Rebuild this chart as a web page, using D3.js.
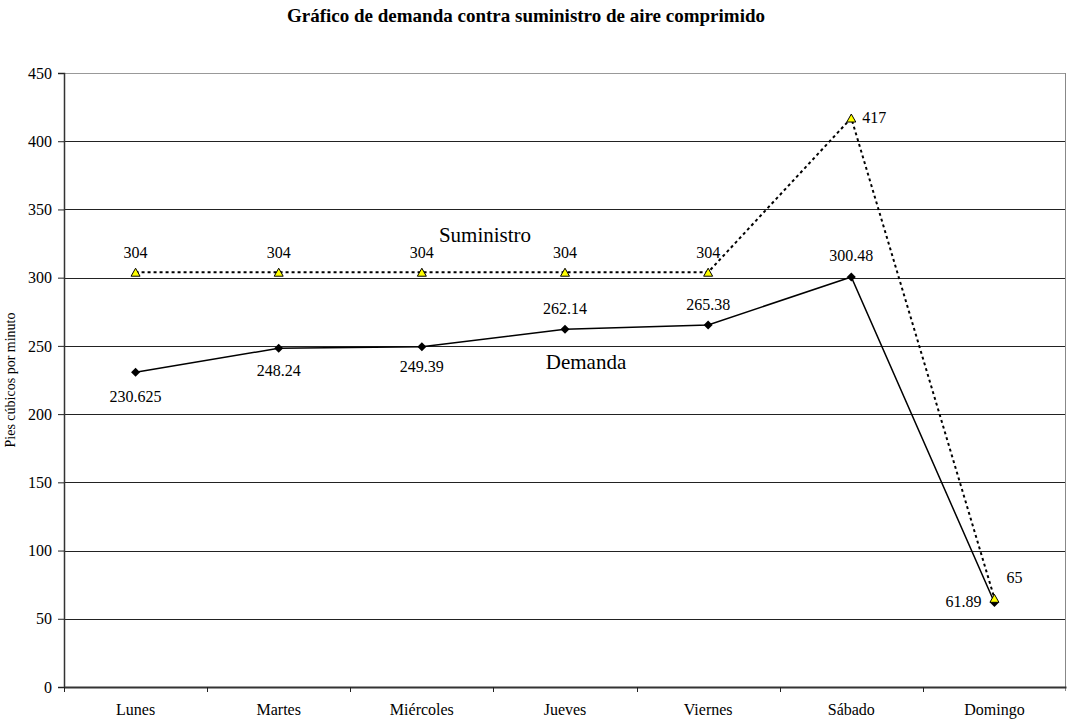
<!DOCTYPE html>
<html>
<head>
<meta charset="utf-8">
<script src="https://cdn.jsdelivr.net/npm/d3@7"></script>
<style>
  body { margin: 0; background: #fff; }
  text { font-family: "Liberation Serif", "Times New Roman", serif; fill: #000; }
</style>
</head>
<body>
<svg id="chart" width="1067" height="723"></svg>
<script>
const days = ["Lunes", "Martes", "Miércoles", "Jueves", "Viernes", "Sábado", "Domingo"];
const supply = [304, 304, 304, 304, 304, 417, 65];
const demand = [230.625, 248.24, 249.39, 262.14, 265.38, 300.48, 61.89];
const supplyLabels = ["304", "304", "304", "304", "304", "417", "65"];
const demandLabels = ["230.625", "248.24", "249.39", "262.14", "265.38", "300.48", "61.89"];
const yTicks = [0, 50, 100, 150, 200, 250, 300, 350, 400, 450];

const svg = d3.select("#chart");
const plotLeft = 64, plotRight = 1066, plotTop = 73, plotBottom = 687;

const x = d3.scaleBand().domain(days).range([plotLeft, plotRight]);
const y = d3.scaleLinear().domain([0, 450]).range([plotBottom, plotTop]);
const cx = d => x(d) + x.bandwidth() / 2;

// title
svg.append("text")
    .attr("x", 526).attr("y", 22)
    .attr("text-anchor", "middle")
    .attr("font-size", 19).attr("font-weight", "bold")
    .text("Gráfico de demanda contra suministro de aire comprimido");

// gridlines
svg.append("g")
    .selectAll("line")
    .data(yTicks.slice(1))
    .join("line")
    .attr("x1", plotLeft).attr("x2", plotRight)
    .attr("y1", d => Math.round(y(d)) + 0.5).attr("y2", d => Math.round(y(d)) + 0.5)
    .attr("stroke", d => d === 450 ? "#999" : "#222")
    .attr("stroke-width", 1);

// right border
svg.append("line")
    .attr("x1", plotRight - 0.5).attr("x2", plotRight - 0.5).attr("y1", plotTop).attr("y2", plotBottom + 4)
    .attr("stroke", "#888");

// y axis
const yAxis = svg.append("g")
    .attr("transform", `translate(${plotLeft},0)`)
    .call(d3.axisLeft(y).tickValues(yTicks).tickSize(6).tickPadding(6));
yAxis.select(".domain").attr("stroke", "#333").attr("stroke-width", 1.5);
yAxis.selectAll(".tick line").attr("stroke", "#222");
yAxis.selectAll("text").attr("font-size", 16).attr("font-family", "Liberation Serif, serif");

// x axis
const xAxis = svg.append("g")
    .attr("transform", `translate(0,${plotBottom})`)
    .call(d3.axisBottom(x).tickSize(0).tickPadding(17));
xAxis.select(".domain").attr("stroke", "#333").attr("stroke-width", 2);
xAxis.selectAll("text").attr("font-size", 16).attr("font-family", "Liberation Serif, serif");
svg.append("g")
    .selectAll("line")
    .data(days)
    .join("line")
    .attr("x1", d => Math.round(x(d)) + 0.5).attr("x2", d => Math.round(x(d)) + 0.5)
    .attr("y1", plotBottom).attr("y2", plotBottom + 5)
    .attr("stroke", "#222");

// y axis title
svg.append("text")
    .attr("transform", "translate(15,380) rotate(-90)")
    .attr("text-anchor", "middle")
    .attr("font-size", 14)
    .text("Pies cúbicos por minuto");

// demand line
svg.append("path")
    .datum(demand)
    .attr("fill", "none").attr("stroke", "#000").attr("stroke-width", 1.5)
    .attr("d", d3.line().x((d, i) => cx(days[i])).y(d => y(d)));

// supply line
svg.append("path")
    .datum(supply)
    .attr("fill", "none").attr("stroke", "#000").attr("stroke-width", 2)
    .attr("stroke-dasharray", "3,3")
    .attr("d", d3.line().x((d, i) => cx(days[i])).y(d => y(d)));

// demand markers
svg.append("g")
    .selectAll("path")
    .data(demand)
    .join("path")
    .attr("transform", (d, i) => `translate(${cx(days[i])},${y(d)})`)
    .attr("d", "M0,-4.5L4.5,0L0,4.5L-4.5,0Z")
    .attr("fill", "#000");

// supply markers
svg.append("g")
    .selectAll("path")
    .data(supply)
    .join("path")
    .attr("transform", (d, i) => `translate(${cx(days[i])},${y(d)})`)
    .attr("d", "M0,-4L4.5,4L-4.5,4Z")
    .attr("fill", "#ffff00").attr("stroke", "#000").attr("stroke-width", 1);

// supply labels
const supplyOffsets = [[0, -14], [0, -14], [0, -14], [0, -14], [0, -14], [11, 5], [12, -15]];
svg.append("g")
    .selectAll("text")
    .data(supply)
    .join("text")
    .attr("x", (d, i) => cx(days[i]) + supplyOffsets[i][0])
    .attr("y", (d, i) => y(d) + supplyOffsets[i][1])
    .attr("text-anchor", (d, i) => supplyOffsets[i][0] > 0 ? "start" : "middle")
    .attr("font-size", 16)
    .text((d, i) => supplyLabels[i]);

// demand labels
const demandOffsets = [[0, 30], [0, 28], [0, 25], [0, -15], [0, -15], [0, -16], [-13, 4]];
svg.append("g")
    .selectAll("text")
    .data(demand)
    .join("text")
    .attr("x", (d, i) => cx(days[i]) + demandOffsets[i][0])
    .attr("y", (d, i) => y(d) + demandOffsets[i][1])
    .attr("text-anchor", (d, i) => demandOffsets[i][0] < 0 ? "end" : "middle")
    .attr("font-size", 16)
    .text((d, i) => demandLabels[i]);

// series annotations
svg.append("text").attr("x", 485).attr("y", 242).attr("text-anchor", "middle")
    .attr("font-size", 21).text("Suministro");
svg.append("text").attr("x", 586).attr("y", 369).attr("text-anchor", "middle")
    .attr("font-size", 21).text("Demanda");
</script>
</body>
</html>
